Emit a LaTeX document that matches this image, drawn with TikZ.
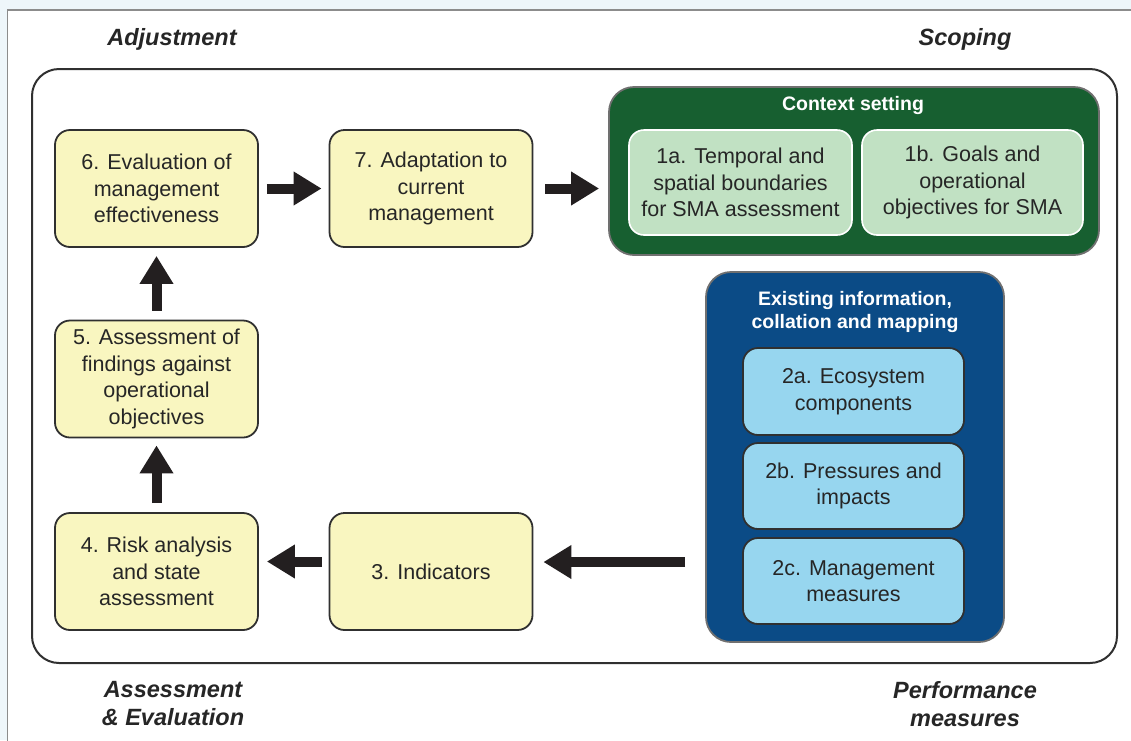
\documentclass[tikz,border=0pt]{standalone}
\usepackage{fontspec}
\setmainfont{Liberation Sans}
\usetikzlibrary{arrows.meta}
\definecolor{bgblue}{HTML}{EEF6FA}
\definecolor{panelline}{HTML}{8C8C8C}
\definecolor{darkline}{HTML}{303030}
\definecolor{yfill}{HTML}{F9F6C0}
\definecolor{gdark}{HTML}{175F30}
\definecolor{glight}{HTML}{C1E1C3}
\definecolor{bdark}{HTML}{0B4B86}
\definecolor{blight}{HTML}{97D6EF}
\definecolor{greyline}{HTML}{707070}
\definecolor{arrowcol}{HTML}{231F20}
\newcommand{\bodyfont}{\fontsize{21.5}{26.5}\selectfont}
\newcommand{\titlefont}{\fontsize{19.5}{23}\selectfont\bfseries}
\newcommand{\labelfont}{\fontsize{23.5}{28}\selectfont\bfseries\itshape}
\tikzset{
  ybox/.style={draw=darkline, line width=1.8pt, fill=yfill, rounded corners=15pt,
    minimum width=203pt, minimum height=117pt, inner sep=0pt, align=center,
    font=\bodyfont, text=black!85},
  gbox/.style={draw=white, line width=1.6pt, fill=glight, rounded corners=15pt,
    minimum height=105pt, inner sep=0pt, align=center, font=\bodyfont, text=black!85},
  bbox/.style={draw=darkline, line width=1.8pt, fill=blight, rounded corners=15pt,
    minimum width=221pt, minimum height=86pt, inner sep=0pt, align=center,
    font=\bodyfont, text=black!85},
  groupbox/.style={draw=greyline, line width=1.8pt, rounded corners=25pt, inner sep=0pt},
  grouptitle/.style={text=white, font=\titlefont, align=center, inner sep=0pt},
  phase/.style={font=\labelfont, text=black!85, align=center, inner sep=0pt},
  blockarrow/.style={draw=arrowcol, line width=10pt,
    -{Triangle[length=28pt, width=32pt]}}
}
\begin{document}
\begin{tikzpicture}[x=1pt,y=-1pt]
\useasboundingbox (0,0) rectangle (1131,740);
\fill[bgblue] (0,0) rectangle (1131,740);
\filldraw[fill=white, draw=panelline, line width=1.5pt] (7.5,10) rectangle (1140,750);
\draw[darkline, line width=2pt, rounded corners=27pt] (32,69) rectangle (1117,663);

% phase labels
\node[phase] (adj) at (172,39) {Adjustment};
\node[phase] (scp) at (965,39) {Scoping};
\node[phase] (ass) at (173,704) {Assessment\\\& Evaluation};
\node[phase] (perf) at (965,704) {Performance\\measures};

% context setting group
\node[groupbox, fill=gdark, minimum width=490pt, minimum height=168pt] (ctx) at (854,171) {};
\node[grouptitle] (ctxt) at (853,105) {Context setting};
\node[gbox, minimum width=223pt] (b1a) at (740.5,182.5) {1a. Temporal and\\spatial boundaries\\for SMA assessment};
\node[gbox, minimum width=221pt] (b1b) at (972.5,182.5) {1b. Goals and\\operational\\objectives for SMA};

% existing information group
\node[groupbox, fill=bdark, minimum width=298pt, minimum height=370pt] (info) at (855,457) {};
\node[grouptitle] (infot) at (855,311.5) {Existing information,\\collation and mapping};
\node[bbox, minimum height=87pt] (b2a) at (853.5,391.5) {2a. Ecosystem\\components};
\node[bbox] (b2b) at (853.5,486) {2b. Pressures and\\impacts};
\node[bbox] (b2c) at (853.5,581) {2c. Management\\measures};

% yellow steps
\node[ybox] (b6) at (156.5,188.5) {6. Evaluation of\\management\\effectiveness};
\node[ybox] (b7) at (431,188.5) {7. Adaptation to\\current\\management};
\node[ybox] (b5) at (156.5,379) {5. Assessment of\\findings against\\operational\\objectives};
\node[ybox] (b4) at (156.5,571.5) {4. Risk analysis\\and state\\assessment};
\node[ybox] (b3) at (431,571.5) {3. Indicators};

% arrows
\coordinate (a3) at ([yshift=9.5pt]b3.east);
\draw[blockarrow, shorten <=8pt, shorten >=7pt] (b6.east) -- (b7.west);
\draw[blockarrow, shorten <=12pt, shorten >=9pt] (b7.east) -- (b7.east -| ctx.west);
\draw[blockarrow, shorten <=9pt, shorten >=8pt] (b5.north) -- (b6.south);
\draw[blockarrow, shorten <=9pt, shorten >=7pt] (b4.north) -- (b5.south);
\draw[blockarrow, shorten <=7pt, shorten >=8pt] ([yshift=10pt]b3.west) -- ([yshift=10pt]b4.east);
\draw[blockarrow, shorten <=20pt, shorten >=10pt] (a3 -| info.west) -- (a3);
\end{tikzpicture}
\end{document}
